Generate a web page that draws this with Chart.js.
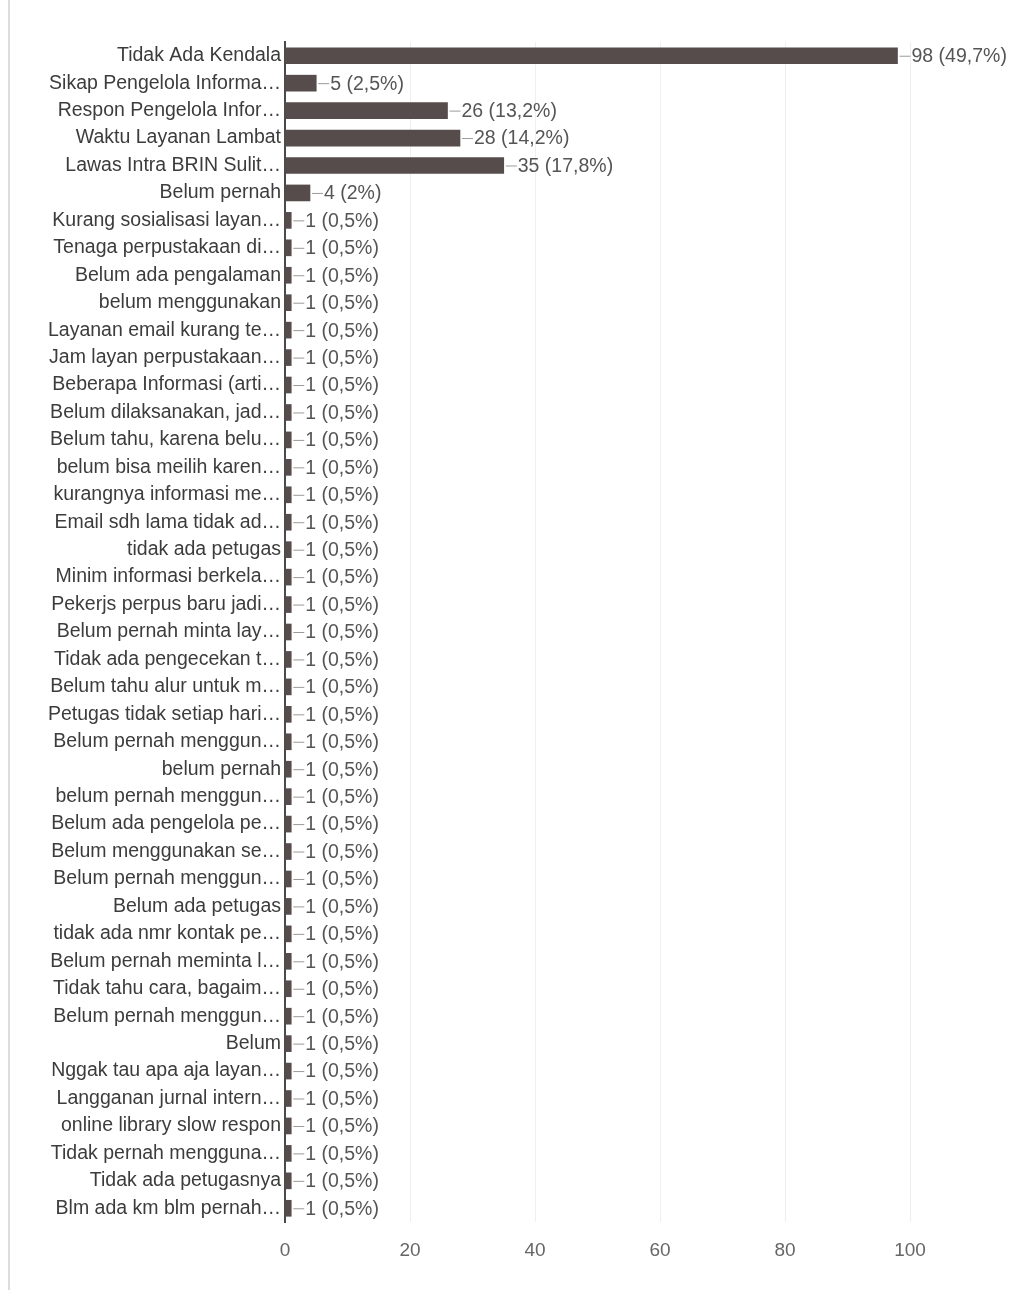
<!DOCTYPE html>
<html>
<head>
<meta charset="utf-8">
<script src="https://cdn.jsdelivr.net/npm/chart.js@4.4.1/dist/chart.umd.min.js"></script>
<style>
  html, body { margin: 0; padding: 0; background: #fff; }
  #wrap { position: relative; width: 1014px; height: 1290px; }
  #frame { position: absolute; left: 8px; top: 0; width: 2px; height: 1290px; background: #dcdcdc; }
</style>
</head>
<body>
<div id="wrap">
  <div id="frame"></div>
  <canvas id="myChart"></canvas>
</div>
<script>
// answer options, as they are shown (truncated) in the form summary
const categories = [
  'Tidak Ada Kendala', 'Sikap Pengelola Informa…', 'Respon Pengelola Infor…', 'Waktu Layanan Lambat',
  'Lawas Intra BRIN Sulit…', 'Belum pernah', 'Kurang sosialisasi layan…', 'Tenaga perpustakaan di…',
  'Belum ada pengalaman', 'belum menggunakan', 'Layanan email kurang te…', 'Jam layan perpustakaan…',
  'Beberapa Informasi (arti…', 'Belum dilaksanakan, jad…', 'Belum tahu, karena belu…', 'belum bisa meilih karen…',
  'kurangnya informasi me…', 'Email sdh lama tidak ad…', 'tidak ada petugas', 'Minim informasi berkela…',
  'Pekerjs perpus baru jadi…', 'Belum pernah minta lay…', 'Tidak ada pengecekan t…', 'Belum tahu alur untuk m…',
  'Petugas tidak setiap hari…', 'Belum pernah menggun…', 'belum pernah', 'belum pernah menggun…',
  'Belum ada pengelola pe…', 'Belum menggunakan se…', 'Belum pernah menggun…', 'Belum ada petugas',
  'tidak ada nmr kontak pe…', 'Belum pernah meminta l…', 'Tidak tahu cara, bagaim…', 'Belum pernah menggun…',
  'Belum', 'Nggak tau apa aja layan…', 'Langganan jurnal intern…', 'online library slow respon',
  'Tidak pernah mengguna…', 'Tidak ada petugasnya', 'Blm ada km blm pernah…'
];

const counts = [
  98, 5, 26, 28, 35, 4, 1, 1, 1, 1, 1, 1, 1, 1, 1, 1, 1, 1, 1, 1, 1, 1,
  1, 1, 1, 1, 1, 1, 1, 1, 1, 1, 1, 1, 1, 1, 1, 1, 1, 1, 1, 1, 1
];

const percentLabels = [
  '49,7%', '2,5%', '13,2%', '14,2%', '17,8%', '2%'
];
const onePercent = '0,5%';

const xTicks = [0, 20, 40, 60, 80, 100];

const FONT = "'Liberation Sans', Arial, sans-serif";

// draws the "— 98 (49,7%)" label at the end of each bar
const valueLabels = {
  id: 'valueLabels',
  afterDatasetsDraw(chart) {
    const c = chart.ctx;
    const meta = chart.getDatasetMeta(0);
    c.save();
    c.font = '19.5px ' + FONT;
    c.textBaseline = 'middle';
    c.textAlign = 'left';
    meta.data.forEach((bar, i) => {
      const pct = percentLabels[i] || onePercent;
      const txt = counts[i] + ' (' + pct + ')';
      c.strokeStyle = '#9a9a9a';
      c.lineWidth = 1;
      c.beginPath();
      c.moveTo(bar.x + 2, bar.y + 0.5);
      c.lineTo(bar.x + 13, bar.y + 0.5);
      c.stroke();
      c.fillStyle = '#555';
      c.fillText(txt, bar.x + 14, bar.y + 1);
    });
    c.restore();
  }
};

const ctx = document.getElementById('myChart').getContext('2d');
const chart = new Chart(ctx, {
  type: 'bar',
  data: {
    labels: categories,
    datasets: [{
      data: counts,
      backgroundColor: '#574c4c',
      barThickness: 16
    }]
  },
  plugins: [valueLabels],
  options: {
    indexAxis: 'y',
    responsive: true,
    maintainAspectRatio: false,
    animation: false,
    layout: { padding: { top: 42, right: 104, bottom: 0, left: 0 } },
    plugins: {
      legend: { display: false },
      tooltip: { enabled: false }
    },
    scales: {
      x: {
        min: 0,
        max: 100,
        afterBuildTicks: axis => { axis.ticks = xTicks.map(v => ({ value: v })); },
        afterFit: axis => { axis.height = 68; },
        grid: { color: '#efefef', drawTicks: false },
        border: { display: false },
        ticks: {
          padding: 17,
          color: '#666',
          font: { family: FONT, size: 19 }
        }
      },
      y: {
        afterFit: axis => { axis.width = 285; },
        grid: { display: false, drawTicks: false },
        border: { display: true, color: '#4a4a4a', width: 2 },
        ticks: {
          autoSkip: false,
          padding: 4,
          color: '#3c3c3c',
          font: { family: FONT, size: 19.5 }
        }
      }
    }
  }
});
</script>
</body>
</html>
